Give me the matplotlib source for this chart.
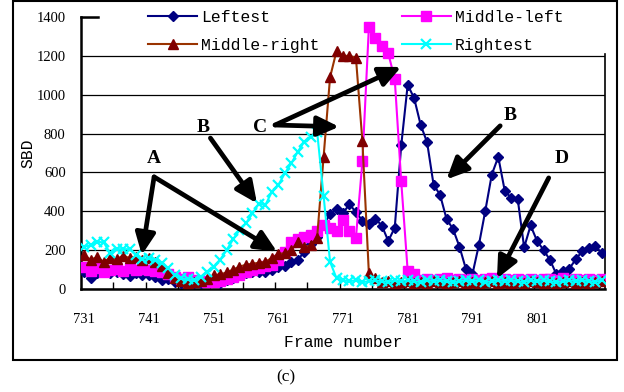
import numpy as np
import matplotlib.pyplot as plt
from matplotlib.patches import Rectangle

frames = np.arange(731, 812)

leftest = [90, 55, 80, 95, 80, 90, 75, 65, 80, 70,
           70, 60, 45, 50, 35, 30, 35, 30, 30, 40,
           35, 30, 45, 55, 70, 80, 85, 85, 90, 100,
           115, 120, 140, 150, 190, 230, 270, 330,
           385, 413, 390, 437, 395, 352, 335, 362, 326, 247, 316, 739,
           1051, 982, 845, 755, 537, 485, 361, 309, 218, 103,
           75, 226, 403, 589, 680, 506, 468, 465, 214, 327,
           247, 201, 149, 75, 92, 105, 154, 195, 209, 223, 183]
middle_left = [115, 95, 110, 85, 100, 105, 95, 110, 100, 105,
               100, 95, 90, 75, 60, 50, 60, 45, 40, 35,
               35, 40, 50, 60, 70, 85, 100, 110, 120, 125,
               150, 190, 240, 255, 270, 280, 300, 330,
               313, 296, 356, 296, 264, 657, 1348, 1292, 1249, 1213, 1080, 554,
               92, 75, 45, 50, 45, 50, 55, 45, 50, 45,
               50, 45, 50, 55, 45, 50, 45, 50, 45, 50,
               45, 50, 50, 45, 55, 45, 50, 45, 50, 45, 50]
middle_right = [175, 150, 165, 140, 160, 155, 170, 160, 165, 150,
                160, 140, 120, 80, 55, 40, 30, 35, 40, 50,
                70, 75, 85, 100, 115, 125, 130, 135, 140, 160,
                180, 185, 200, 240, 215, 225, 265,
                680, 1090, 1225, 1200, 1200, 1190, 760, 80, 55,
                35, 40, 30, 35, 40, 30, 35, 30, 40, 35,
                30, 35, 40, 30, 35, 30, 35, 40, 30, 35,
                30, 35, 30, 40, 35, 30, 35, 30, 35, 40, 30, 35, 30, 35, 40]
rightest = [218, 225, 243, 240, 185, 205, 205, 205, 175, 155,
            158, 150, 132, 106, 70, 55, 50,
            46, 63, 89, 115, 150, 200, 255, 303, 338, 389, 440, 432, 500, 535,
            595, 646, 706, 757, 783, 810,
            480, 140, 55,
            45, 40, 45, 35, 40, 45, 40, 35, 45, 40, 45, 40, 35, 45, 40, 45,
            40, 35, 40, 45, 40, 45, 35, 40, 45, 40, 45, 40, 35, 45, 40, 45,
            40, 35, 40, 45, 40, 45, 40, 35, 45]

x_labels = [731, 741, 751, 761, 771, 781, 791, 801]

mono = 'Liberation Mono'
serif = 'Liberation Serif'

fig = plt.figure(figsize=(6.24, 3.92), dpi=100)
ax = fig.add_axes([81/624, 1-289/392, 524/624, 272/392])

l1, = ax.plot(frames, leftest, color='#000080', marker='D', ms=5.5, lw=1.5, label='Leftest', zorder=3)
l2, = ax.plot(frames, middle_left, color='#FF00FF', marker='s', ms=6.5, lw=1.5, label='Middle-left', zorder=3)
l3, = ax.plot(frames, middle_right, color='#993300', marker='^', ms=7, mfc='#800000', mec='#800000',
              lw=1.5, label='Middle-right', zorder=3)
l4, = ax.plot(frames, rightest, color='#00FFFF', marker='x', ms=6.5, mew=1.6, lw=1.5, label='Rightest', zorder=3)

ax.set_xlim(730.5, 811.5)
ax.set_ylim(0, 1400)
ax.set_yticks(range(0, 1401, 200))
ax.set_xticks(x_labels)
ax.set_xticks(np.arange(735.5, 811, 5), minor=True)
ax.tick_params(axis='x', which='major', length=0, pad=17)
ax.tick_params(axis='x', which='minor', direction='in', length=5, width=1)
ax.tick_params(axis='y', length=0, pad=11)
for lab in ax.get_xticklabels() + ax.get_yticklabels():
    lab.set_fontfamily(serif)
    lab.set_fontsize(10.5)
ax.grid(axis='y', color='black', lw=0.9)
ax.set_axisbelow(True)

for s in ['left', 'bottom']:
    ax.spines[s].set_linewidth(1.8)
ax.spines['top'].set_visible(False)
ax.spines['right'].set_visible(False)
ax.plot([0, 17/524], [1, 1], transform=ax.transAxes, color='k', lw=1.8, clip_on=False)
ax.plot([1, 1], [0, (289-54)/272], transform=ax.transAxes, color='k', lw=1.2, clip_on=False)
# white box behind the legend hides the top grid line
ax.add_patch(Rectangle((17/524, (289-54)/272), 1.05, 0.3, transform=ax.transAxes,
                       facecolor='white', edgecolor='none', zorder=1.5, clip_on=False))

ax.set_xlabel('Frame number', fontfamily=mono, fontsize=11.8, labelpad=7)
ax.set_ylabel('SBD', fontfamily=mono, fontsize=11.8, labelpad=1)

# arrows and letters
arrow = dict(arrowstyle='-|>,head_length=1.3,head_width=0.6', lw=3.4, color='black',
             shrinkA=0, shrinkB=0, mutation_scale=10)
arrows = [((741.8, 577), (739.9, 175)), ((741.8, 577), (760.8, 192)),
          ((750.5, 777), (757.7, 441)),
          ((760.5, 844), (770.4, 835)), ((760.5, 844), (780.0, 1143)),
          ((795.3, 840), (787.0, 564)),
          ((802.8, 572), (794.8, 54))]
for start, tip in arrows:
    ax.annotate('', xy=tip, xytext=start, arrowprops=arrow, zorder=4)
letters = [('A', 741.8, 674), ('B', 749.4, 829), ('C', 758.2, 829), ('B', 796.9, 891), ('D', 804.8, 672)]
for t, fx, fy in letters:
    ax.text(fx, fy, t, fontfamily=serif, fontsize=14, fontweight='bold', ha='center', va='center', zorder=4)

fig.legend(handles=[l1, l3, l2, l4], ncol=2, frameon=False, loc='upper left',
           bbox_to_anchor=(140/624, 1-2/392), borderpad=0, prop={'family': mono, 'size': 11.8},
           handlelength=3.0, handletextpad=0.25, columnspacing=5.0, labelspacing=0.78)

fig.patches.append(Rectangle((13/624, 1-360/392), 604/624, 359/392, transform=fig.transFigure,
                             fill=False, edgecolor='black', lw=1.5, zorder=10))
fig.text(286/624, 1-377/392, '(c)', fontfamily=serif, fontsize=12.5, ha='center', va='center')

fig.savefig('out.png', dpi=100)
